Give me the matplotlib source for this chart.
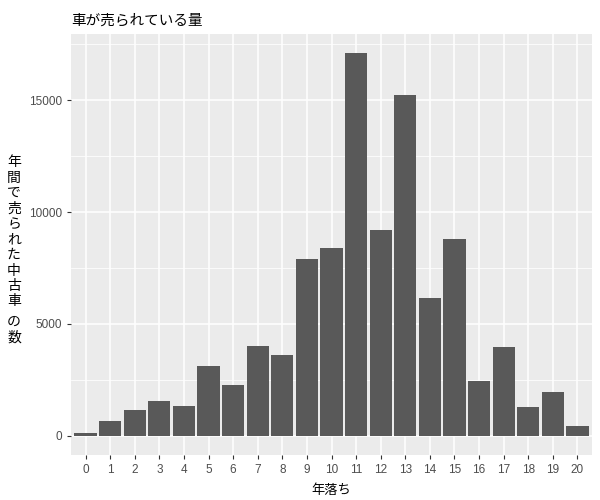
import matplotlib
matplotlib.use("Agg")
import matplotlib.pyplot as plt
from matplotlib.ticker import MultipleLocator

plt.rcParams['font.family'] = ['Noto Sans CJK JP', 'DejaVu Sans']

ages = list(range(21))
counts = [130, 670, 1160, 1560, 1340, 3125, 2280, 4020, 3620, 7900, 8390,
          17100, 9200, 15220, 6160, 8790, 2455, 3970, 1295, 1960, 446]
title = "車が売られている量"
xlabel = "年落ち"
ylabel = "年間で売られた中古車 の数"

W, H = 600, 500
fig = plt.figure(figsize=(6, 5), dpi=100)
ax = fig.add_axes([0.118, 0.09, 0.869, 0.842])
ax.set_facecolor('#EBEBEB')
ax.bar(ages, counts, width=0.9, color='#595959', zorder=3)
ax.set_xlim(-0.6, 20.6)
ax.set_ylim(-max(counts) * 0.05, max(counts) * 1.05)
ax.set_xticks(ages)
ax.set_xticklabels([str(a) for a in ages])
ax.yaxis.set_major_locator(MultipleLocator(5000))
ax.yaxis.set_minor_locator(MultipleLocator(2500))
ax.grid(which='major', color='white', linewidth=1.1, zorder=1)
ax.grid(which='minor', axis='y', color='white', linewidth=0.55, zorder=1)
for s in ax.spines.values():
    s.set_visible(False)
ax.tick_params(which='major', length=3, color='#333333', labelsize=8.5,
               labelcolor='#4D4D4D', width=0.8)
ax.tick_params(which='minor', length=0)
for lab in ax.get_xticklabels() + ax.get_yticklabels():
    lab.set_fontfamily(['Liberation Sans', 'DejaVu Sans'])
ax.set_title(title, loc='left', fontsize=10.5, pad=7, x=0.0)
ax.set_xlabel(xlabel, fontsize=9.5, labelpad=6)

# vertical stacked y label
y_px = 162
for ch in ylabel:
    if ch == ' ':
        y_px += 5
        continue
    fig.text(14 / W, 1 - y_px / H, ch, ha='center', va='center', fontsize=10)
    y_px += 15.5

fig.savefig('out.png', dpi=100)
